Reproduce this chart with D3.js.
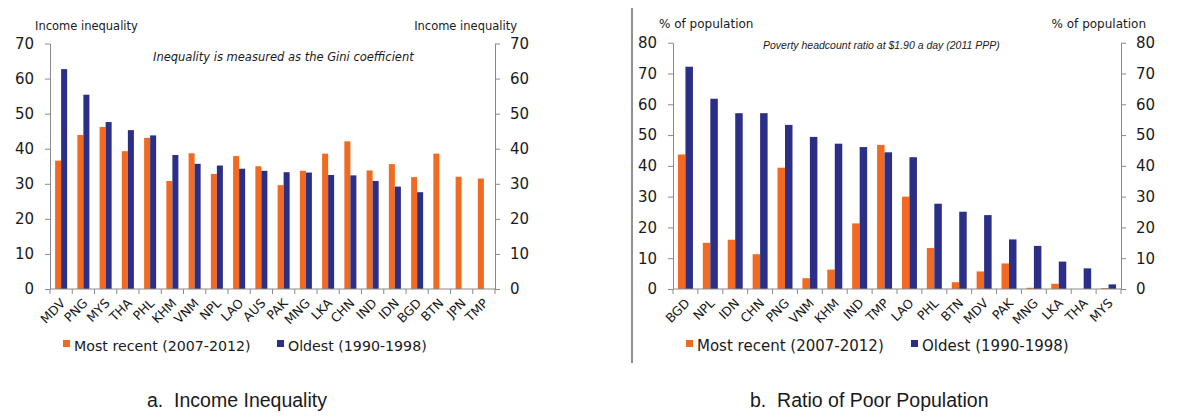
<!DOCTYPE html>
<html lang="en">
<head>
<meta charset="utf-8">
<title>Income inequality and poverty</title>
<script src="https://cdn.jsdelivr.net/npm/d3@7"></script>
<style>
  body { margin: 0; background: #fff; }
  svg text { fill: #1a1a1a; }
  .axis path, .axis line { stroke: #8a8a8a; }
</style>
</head>
<body>
<svg id="chart" width="1178" height="417"></svg>
<script>
// panel a: Gini coefficient
const incomeCountries = ['MDV','PNG','MYS','THA','PHL','KHM','VNM','NPL','LAO','AUS','PAK','MNG','LKA','CHN','IND','IDN','BGD','BTN','JPN','TMP'];
const incomeRecent = [36.6, 43.9, 46.2, 39.3, 43.1, 30.8, 38.7, 32.8, 37.9, 35.0, 29.6, 33.7, 38.6, 42.1, 33.8, 35.6, 31.9, 38.6, 32.0, 31.5];
const incomeOldest = [62.7, 55.4, 47.6, 45.3, 43.8, 38.2, 35.7, 35.2, 34.3, 33.7, 33.3, 33.2, 32.5, 32.4, 30.8, 29.2, 27.6, null, null, null];
const incomeTicks = [0, 10, 20, 30, 40, 50, 60, 70];

// panel b: poverty headcount ratio
const povertyCountries = ['BGD','NPL','IDN','CHN','PNG','VNM','KHM','IND','TMP','LAO','PHL','BTN','MDV','PAK','MNG','LKA','THA','MYS'];
const povertyRecent = [43.7, 15.0, 16.0, 11.3, 39.4, 3.5, 6.3, 21.3, 46.8, 30.0, 13.3, 2.2, 5.7, 8.3, 0.4, 1.7, 0, 0.3];
const povertyOldest = [72.2, 61.8, 57.1, 57.1, 53.3, 49.4, 47.2, 46.1, 44.4, 42.8, 27.7, 25.1, 24.0, 16.1, 14.0, 8.9, 6.7, 1.5];
const povertyTicks = [0, 10, 20, 30, 40, 50, 60, 70, 80];

const seriesNames = ['Most recent (2007-2012)', 'Oldest (1990-1998)'];
const colors = ['#f26a21', '#2c2f86'];

const svg = d3.select('#chart');
const font = 'DejaVu Sans, Verdana, sans-serif';

function panel(o) {
  const g = svg.append('g');
  const x = d3.scaleBand().domain(o.cats).range([o.x0, o.x1]);
  const xs = d3.scaleBand().domain([0, 1]).range([0, x.bandwidth()]).paddingOuter(o.pad);
  const y = d3.scaleLinear().domain([0, o.max]).range([o.y0, o.y1]);

  // bars
  [o.recent, o.oldest].forEach((vals, s) => {
    g.append('g').selectAll('rect')
      .data(o.cats.map((c, i) => ({ c, v: vals[i] })).filter(d => d.v != null && d.v > 0))
      .join('rect')
      .attr('x', d => x(d.c) + xs(s))
      .attr('width', xs.bandwidth())
      .attr('y', d => y(d.v))
      .attr('height', d => y(0) - y(d.v))
      .attr('fill', colors[s]);
  });

  // value axes
  const left = g.append('g').attr('class', 'axis')
    .attr('transform', `translate(${o.x0},0)`)
    .call(d3.axisLeft(y).tickValues(o.ticks).tickSize(5).tickPadding(11).tickSizeOuter(0));
  const right = g.append('g').attr('class', 'axis')
    .attr('transform', `translate(${o.x1},0)`)
    .call(d3.axisRight(y).tickValues(o.ticks).tickSize(5).tickPadding(10).tickSizeOuter(0));
  [left, right].forEach(a => a.selectAll('text')
    .style('font-family', font).style('font-size', '15px').attr('fill', '#1a1a1a'));

  // category axis: boundary ticks, rotated labels
  const bottom = g.append('g').attr('class', 'axis');
  bottom.append('line')
    .attr('x1', o.x0).attr('x2', o.x1).attr('y1', y(0)).attr('y2', y(0));
  bottom.selectAll('line.tk')
    .data(o.cats.map(c => x(c)).concat([o.x1]))
    .join('line').attr('class', 'tk')
    .attr('x1', d => d).attr('x2', d => d)
    .attr('y1', y(0)).attr('y2', y(0) + 5);
  bottom.selectAll('text')
    .data(o.cats)
    .join('text')
    .attr('transform', d => `translate(${x(d) + x.bandwidth() / 2 + 5},${y(0) + 15}) rotate(-45)`)
    .attr('text-anchor', 'end')
    .style('font-family', font).style('font-size', '12.5px')
    .text(d => d);

  // unit labels
  g.append('text').attr('x', o.unitL).attr('y', o.unitY)
    .style('font-family', font).style('font-size', o.unitSize)
    .text(o.unit);
  g.append('text').attr('x', o.unitR).attr('y', o.unitY).attr('text-anchor', 'end')
    .style('font-family', font).style('font-size', o.unitSize)
    .text(o.unit);

  // note
  g.append('text').attr('x', o.noteX).attr('y', o.noteY)
    .style('font-family', o.noteFont).style('font-size', o.noteSize)
    .style('font-style', 'italic')
    .text(o.note);

  // legend
  const lg = g.append('g');
  seriesNames.forEach((n, s) => {
    lg.append('rect')
      .attr('x', o.legX[s]).attr('y', o.legY - 11)
      .attr('width', 7).attr('height', 7)
      .attr('fill', colors[s]);
    lg.append('text')
      .attr('x', o.legX[s] + 11).attr('y', o.legY)
      .style('font-family', font).style('font-size', o.legSize)
      .text(n);
  });

  // caption
  g.append('text').attr('x', o.capX).attr('y', 407)
    .style('font-family', 'Liberation Sans, Arial, sans-serif').style('font-size', '19.5px')
    .attr('xml:space', 'preserve')
    .text(o.caption);
}

panel({
  cats: incomeCountries, recent: incomeRecent, oldest: incomeOldest, ticks: incomeTicks,
  max: 70, x0: 50, x1: 495, y0: 289, y1: 43.5, pad: 0.85,
  unit: 'Income inequality', unitL: 35, unitR: 517, unitY: 30, unitSize: '11.5px',
  note: 'Inequality is measured as the Gini coefficient', noteX: 153, noteY: 61,
  noteFont: font, noteSize: '11.5px',
  legX: [63, 277], legY: 351, legSize: '14.2px',
  caption: 'a.  Income Inequality', capX: 147
});

panel({
  cats: povertyCountries, recent: povertyRecent, oldest: povertyOldest, ticks: povertyTicks,
  max: 80, x0: 673, x1: 1121, y0: 289, y1: 42.7, pad: 0.66,
  unit: '% of population', unitL: 659, unitR: 1146, unitY: 28, unitSize: '12px',
  note: 'Poverty headcount ratio at $1.90 a day (2011 PPP)', noteX: 763, noteY: 49,
  noteFont: 'Liberation Sans, Arial, sans-serif', noteSize: '10.5px',
  legX: [686, 911], legY: 351, legSize: '15px',
  caption: 'b.  Ratio of Poor Population', capX: 750
});

// divider between the two panels
svg.append('line')
  .attr('x1', 632).attr('x2', 632).attr('y1', 8).attr('y2', 363)
  .attr('stroke', '#222').attr('stroke-width', 1);
</script>
</body>
</html>
